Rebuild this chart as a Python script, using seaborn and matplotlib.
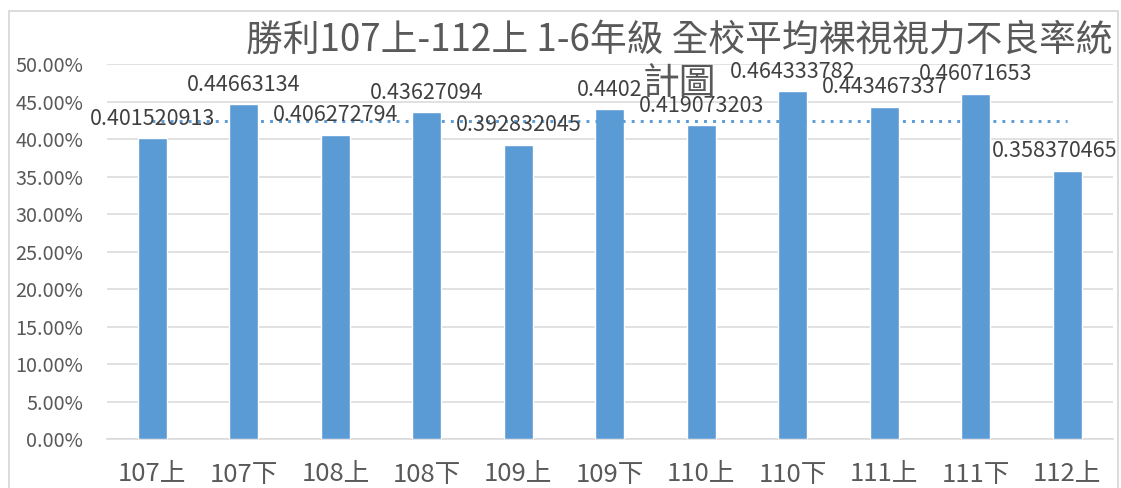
import matplotlib
matplotlib.use("Agg")
import matplotlib.pyplot as plt
import seaborn as sns
import numpy as np
import pandas as pd
from matplotlib.patches import Rectangle
from matplotlib.ticker import PercentFormatter

categories = ["107上", "107下", "108上", "108下", "109上", "109下",
              "110上", "110下", "111上", "111下", "112上"]
values = [0.401520913, 0.44663134, 0.406272794, 0.43627094, 0.392832045,
          0.4402, 0.419073203, 0.464333782, 0.443467337, 0.46071653, 0.358370465]
labels = ["0.401520913", "0.44663134", "0.406272794", "0.43627094", "0.392832045",
          "0.4402", "0.419073203", "0.464333782", "0.443467337", "0.46071653", "0.358370465"]
title = "勝利107上-112上 1-6年級 全校平均裸視視力不良率統\n計圖"

sns.set_theme(style="white")
plt.rcParams['font.family'] = ['Noto Sans CJK TC', 'DejaVu Sans']

GRAY = "#595959"
BLUE = "#5B9BD5"
GRID = "#D9D9D9"

W, H = 1121, 488
fig = plt.figure(figsize=(W / 100, H / 100), dpi=100)
left, right = 106.75, 1113.0
top, bottom = 64.3, 439.3
ax = fig.add_axes([left / W, 1 - bottom / H, (right - left) / W, (bottom - top) / H])

df = pd.DataFrame({"cat": categories, "val": values})
sns.barplot(data=df, x="cat", y="val", color=BLUE, saturation=1, width=0.317, ax=ax, zorder=3)

avg = float(np.mean(values))
ax.plot([0, len(values) - 1], [avg, avg], color=BLUE, lw=2.1,
        linestyle=(0, (1, 2.1)), zorder=4)

n = len(values)
for i, (v, lab) in enumerate(zip(values, labels)):
    dx = -9 if i == n - 1 else 0
    ax.annotate(lab, (i, v), xytext=(dx, 6), textcoords="offset points",
                ha="center", va="bottom", fontsize=15.5, color="#404040", zorder=5)

ax.set_xlim(-0.5, n - 0.5)
ax.set_ylim(0, 0.5)
ax.set_yticks(np.arange(0, 0.5001, 0.05))
ax.yaxis.set_major_formatter(PercentFormatter(1.0, decimals=2))
ax.grid(axis="y", color=GRID, lw=1.1, zorder=0)
ax.grid(axis="x", visible=False)
for s in ["top", "right", "left"]:
    ax.spines[s].set_visible(False)
ax.spines["bottom"].set_color(GRID)
ax.spines["bottom"].set_linewidth(1.1)
ax.set_xlabel("")
ax.set_ylabel("")
ax.tick_params(axis="y", length=0, pad=17, labelsize=14.3, labelcolor=GRAY)
ax.tick_params(axis="x", length=0, pad=16, labelsize=18.5, labelcolor=GRAY)

fig.text(679 / W, 1 - 62 / H, title, ha="center", va="center", fontsize=26.5,
         color=GRAY, linespacing=1.15, zorder=10)

fig.patches.append(Rectangle((8.5 / W, -0.1), (1118 - 8.5) / W, 1.1 - 10.5 / H,
                             transform=fig.transFigure, fill=False,
                             edgecolor="#D9D9D9", lw=1.3))

fig.savefig("out.png", dpi=100, facecolor="white")
